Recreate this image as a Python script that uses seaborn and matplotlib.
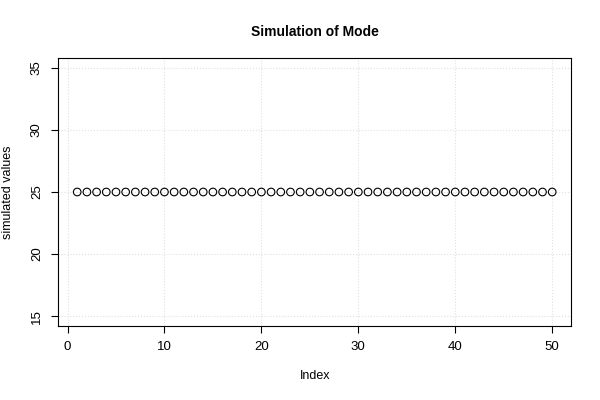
import numpy as np
import pandas as pd
import matplotlib
matplotlib.use("Agg")
import matplotlib.pyplot as plt
import seaborn as sns

# simulated values (all equal to the mode)
index = list(range(1, 51))
values = [25] * 50
x_ticks = [0, 10, 20, 30, 40, 50]
y_ticks = [15, 20, 25, 30, 35]

df = pd.DataFrame({"Index": index, "simulated values": values})

sns.set_style("white")
plt.rcParams['font.family'] = ['Liberation Sans', 'DejaVu Sans']
plt.rcParams['text.color'] = 'black'
plt.rcParams['axes.labelcolor'] = 'black'

fig = plt.figure(figsize=(6, 4), dpi=100)
ax = fig.add_axes([0.097, 0.185, 0.855, 0.67])

sns.scatterplot(x="Index", y="simulated values", data=df, ax=ax,
                marker="o", s=30, facecolors="none", edgecolor="black",
                linewidth=0.8, zorder=3)

ax.set_xlim(-0.96, 51.96)
ax.set_ylim(14.2, 35.8)
ax.set_xticks(x_ticks)
ax.set_yticks(y_ticks)
ax.set_yticklabels([str(t) for t in y_ticks], rotation=90, va="center")
ax.tick_params(direction="out", length=5, width=0.8, colors="black",
               labelcolor="black", labelsize=9.5, pad=6, left=True, bottom=True)
ax.grid(True, color="#e0e0e0", linestyle=":", linewidth=0.8)
for s in ax.spines.values():
    s.set_color("black")
    s.set_linewidth(0.8)

ax.set_title("Simulation of Mode", fontsize=10, fontweight="bold", pad=16, color="black")
ax.set_xlabel("Index", fontsize=9, labelpad=12, color="black")
ax.set_ylabel("simulated values", fontsize=9, labelpad=12, color="black")

fig.savefig("out.png", dpi=100)
